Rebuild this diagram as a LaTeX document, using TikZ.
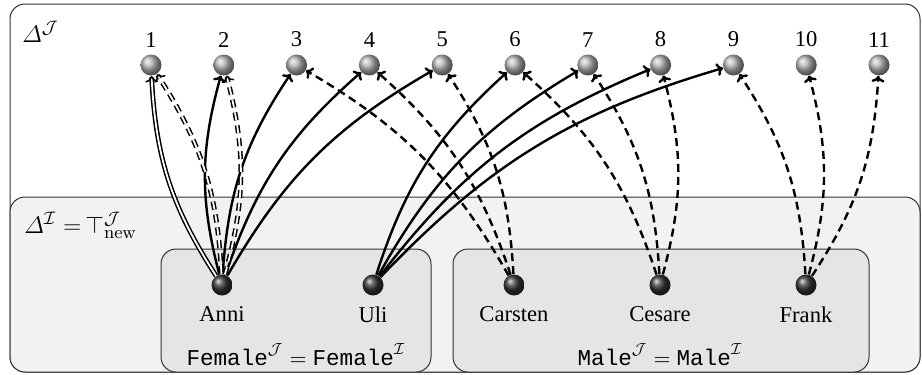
\documentclass[tikz,border=0pt]{standalone}
\usepackage{amsmath, amssymb}
\usepackage[no-math]{fontspec}
\setmainfont{Liberation Serif}
\setmonofont{Liberation Mono}
\usetikzlibrary{arrows.meta}

\tikzset{
  elem/.style={circle, minimum size=10.5pt, inner sep=0pt, ball color=gray!60},
  indiv/.style={circle, minimum size=10.5pt, inner sep=0pt, ball color=black!80},
  domainbox/.style={draw=black!80, line width=0.5pt, rounded corners=7.5pt},
  maps/.style={-{To[length=3.2pt, width=6.5pt]}, line width=1.2pt},
  solidrel/.style={maps, bend left=15},
  dashrel/.style={maps, bend right=15, dash pattern=on 4pt off 2.5pt},
  twin/.style={double, double distance=0.9pt, line width=0.75pt}
}

\begin{document}
\begin{tikzpicture}[x=0.5pt, y=-0.5pt, font=\fontsize{11.3}{13}\selectfont]
  \useasboundingbox (0,0) rectangle (922,375);
  % domains
  \draw[domainbox, fill=white] (10,4) rectangle (920,372);
  \draw[domainbox, fill=black!5] (10,197) rectangle (920,372);
  \draw[domainbox, fill=black!10] (161,249) rectangle (431,372);
  \draw[domainbox, fill=black!10] (453,249) rectangle (869,372);
  \node[anchor=base west, inner sep=0pt, font=\fontsize{13}{15}\selectfont] (dJ) at (22,42) {$\varDelta^{\mathcal{J}}$};
  \node[anchor=base west, inner sep=0pt, font=\fontsize{13}{15}\selectfont] (dI) at (24,233) {$\varDelta^{\mathcal{I}} =\mspace{-2mu}\top^{\mathcal{J}}_{\mathrm{new}}$};
  \node[anchor=base, inner sep=0pt] (female) at (296,365) {$\texttt{Female}^{\mathcal{J}} = \texttt{Female}^{\mathcal{I}}$};
  \node[anchor=base, inner sep=0pt] (male) at (660,365) {$\texttt{Male}^{\mathcal{J}} = \texttt{Male}^{\mathcal{I}}$};

  % elements of the new domain
  \foreach \i in {1,...,11}
    \node[elem, label=above:\i] (n\i) at ({151+72.8*(\i-1)},65) {};

  % individuals
  \node[indiv, label={[label distance=2pt]below:Anni}] (anni) at (222,285) {};
  \node[indiv, label={[label distance=2pt]below:Uli}] (uli) at (373,285) {};
  \node[indiv, label={[label distance=2pt]below:Carsten}] (carsten) at (514,285) {};
  \node[indiv, label={[label distance=2pt]below:Cesare}] (cesare) at (660,285) {};
  \node[indiv, label={[label distance=2pt]below:Frank}] (frank) at (806,285) {};

  % solid mappings
  \draw[solidrel, twin] (anni) to (n1);
  \foreach \j in {2,...,5}
    \draw[solidrel] (anni) to (n\j);
  \foreach \j in {6,...,9}
    \draw[solidrel] (uli) to (n\j);

  % dashed mappings
  \draw[dashrel, twin] (anni) to (n1);
  \draw[dashrel, twin] (anni) to (n2);
  \foreach \j in {3,4,5}
    \draw[dashrel] (carsten) to (n\j);
  \foreach \j in {6,7,8}
    \draw[dashrel] (cesare) to (n\j);
  \foreach \j in {9,10,11}
    \draw[dashrel] (frank) to (n\j);
\end{tikzpicture}
\end{document}
